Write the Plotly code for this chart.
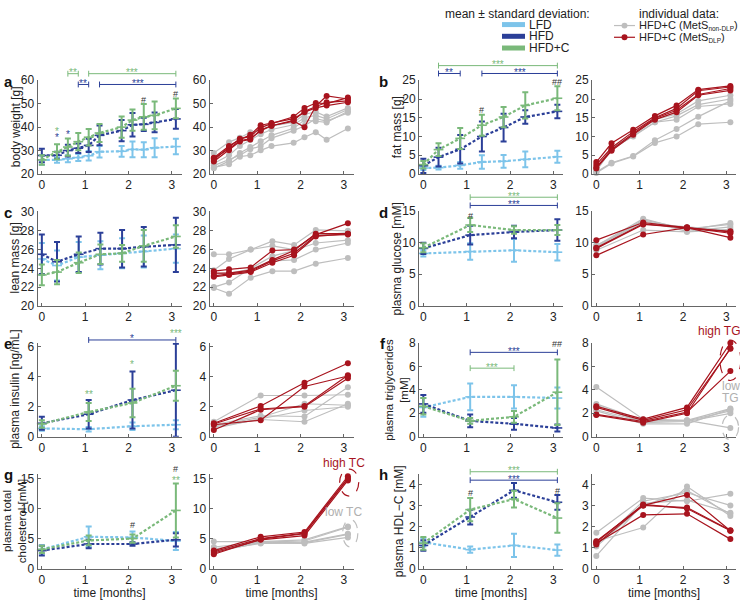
import plotly.graph_objects as go

W, H = 740, 600
FONT = "Liberation Sans, Arial, Helvetica, sans-serif"
LFD_C = "#7DC4EA"
HFD_C = "#2B3F98"
HFDC_C = "#7AB97A"
RED_C = "#A8141E"
GRAY_C = "#BEBEBE"
AX_C = "#666666"
TXT_C = "#222222"

# ---------------- time points (months) ----------------
time_a = [0, 0.35, 0.6, 0.84, 1.08, 1.33, 1.84, 2.09, 2.35, 2.6, 3.09]
time_bc = [0, 0.35, 0.85, 1.35, 1.85, 2.35, 3.09]
time_blood = [0, 1.08, 2.09, 3.09]

# ---------------- a: body weight [g] ----------------
a_lfd = [26.0, 26.0, 26.5, 27.0, 27.8, 29.5, 29.7, 30.5, 30.4, 31.2, 31.7]
a_lfd_sd = [2.0, 1.2, 1.5, 1.5, 2.0, 2.5, 2.3, 3.4, 3.2, 4.1, 3.3]
a_hfd = [27.9, 28.0, 30.0, 31.0, 32.2, 36.5, 38.5, 41.0, 41.2, 42.0, 43.5]
a_hfd_sd = [2.9, 1.5, 2.5, 2.0, 2.8, 4.2, 4.5, 5.0, 2.8, 4.2, 4.2]
a_hfdc = [26.0, 29.5, 31.5, 33.8, 35.7, 37.5, 40.0, 43.0, 44.4, 45.0, 48.0]
a_hfdc_sd = [2.0, 3.2, 3.7, 3.7, 3.5, 3.8, 4.5, 4.5, 5.5, 5.9, 4.2]
a_red = [[26.7, 30.8, 34.3, 35.0, 38.5, 40.6, 42.6, 40.0, 49.0, 53.3, 52.0],
         [26.0, 31.5, 35.0, 36.0, 39.8, 41.5, 44.4, 48.2, 50.3, 50.0, 52.6],
         [25.3, 30.1, 33.9, 34.7, 38.9, 40.6, 42.9, 46.8, 48.9, 50.6, 51.2],
         [26.9, 31.9, 34.7, 36.7, 40.8, 41.8, 43.6, 46.4, 48.2, 49.2, 50.6]]
a_gray = [[29.0, 33.6, 35.5, 37.8, 38.5, 40.5, 42.0, 45.5, 46.5, 44.5, 48.2],
          [24.5, 28.0, 32.0, 34.5, 37.0, 39.0, 41.0, 44.0, 45.0, 43.5, 47.5],
          [23.6, 26.0, 28.0, 30.6, 31.9, 35.3, 38.5, 40.6, 43.6, 42.6, 46.1],
          [22.5, 25.5, 29.0, 31.5, 34.0, 36.5, 39.5, 43.0, 42.5, 42.0, 46.8],
          [22.8, 24.2, 27.4, 28.0, 30.1, 31.9, 33.3, 35.7, 37.8, 34.6, 39.4]]
a_brackets = [(0.6, 0.84, 62.8, "**", "g"), (1.08, 3.09, 62.8, "***", "g"),
              (0.84, 1.08, 58.2, "**", "b"), (1.33, 3.09, 58.2, "***", "b")]
a_marks = [(0.35, 38.6, "*", "g"), (0.35, 35.8, "*", "b"), (0.6, 37.4, "*", "b"),
           (2.35, 51.7, "#", "k"), (3.09, 54.3, "#", "k")]

# ---------------- b: fat mass [g] ----------------
b_lfd = [1.6, 1.7, 2.3, 3.2, 3.4, 3.9, 4.6]
b_lfd_sd = [0.5, 0.5, 0.9, 1.8, 1.7, 2.1, 1.6]
b_hfd = [2.2, 4.5, 6.6, 10.0, 12.4, 15.2, 16.7]
b_hfd_sd = [1.9, 2.5, 3.8, 4.0, 3.7, 1.8, 1.8]
b_hfdc = [2.5, 6.5, 9.5, 13.0, 15.2, 18.3, 20.2]
b_hfdc_sd = [1.0, 1.7, 2.8, 2.8, 2.7, 3.5, 3.2]
b_red = [[3.2, 8.2, 11.8, 15.5, 18.3, 22.5, 23.5],
         [2.5, 7.0, 11.3, 15.0, 17.5, 22.2, 23.2],
         [1.8, 6.5, 10.8, 14.8, 17.0, 21.2, 22.8],
         [1.5, 6.2, 10.5, 14.5, 16.5, 21.0, 22.3]]
b_gray = [[1.0, 7.0, 10.5, 14.5, 16.0, 19.5, 21.0],
          [0.8, 6.5, 10.2, 13.8, 15.5, 18.5, 20.0],
          [1.2, 6.8, 10.0, 13.8, 14.5, 18.0, 18.7],
          [0.5, 3.0, 4.8, 9.0, 12.0, 15.3, 19.5],
          [0.3, 2.8, 4.7, 8.3, 10.0, 13.3, 13.8]]
b_brackets = [(0.35, 3.09, 28.9, "***", "g"), (0.35, 0.85, 26.8, "**", "b"),
              (1.35, 3.09, 26.8, "***", "b")]
b_marks = [(1.35, 17.0, "#", "k"), (3.09, 24.5, "##", "k")]

# ---------------- c: lean mass [g] ----------------
c_lfd = [25.0, 24.3, 25.2, 25.4, 25.6, 25.8, 26.1]
c_lfd_sd = [1.7, 1.6, 1.6, 1.5, 1.6, 1.7, 1.5]
c_hfd = [25.5, 24.7, 25.5, 26.1, 26.1, 26.3, 26.5]
c_hfd_sd = [2.1, 2.1, 1.9, 1.7, 2.0, 2.1, 2.9]
c_hfdc = [23.3, 23.6, 24.6, 25.5, 25.6, 26.4, 27.4]
c_hfdc_sd = [1.1, 1.3, 1.1, 1.05, 0.9, 1.7, 1.2]
c_red = [[23.7, 23.9, 24.1, 25.9, 26.0, 27.6, 28.8],
         [23.5, 23.5, 23.8, 24.9, 25.9, 27.7, 27.7],
         [23.2, 23.4, 23.7, 24.8, 25.6, 27.5, 27.6],
         [23.1, 23.3, 23.6, 24.6, 25.4, 27.4, 27.7]]
c_gray = [[25.5, 25.5, 26.0, 26.9, 26.5, 28.1, 28.0],
          [23.8, 25.0, 26.0, 26.4, 26.0, 27.5, 27.8],
          [22.0, 22.5, 24.0, 25.3, 25.9, 26.7, 27.0],
          [23.4, 23.5, 23.9, 24.8, 24.9, 26.0, 26.7],
          [21.9, 21.3, 23.0, 23.7, 23.7, 24.5, 25.1]]
c_brackets = []
c_marks = []

# ---------------- d: plasma glucose [mM] ----------------
d_lfd = [8.3, 8.6, 8.8, 8.5]
d_lfd_sd = [0.5, 1.3, 1.8, 1.3]
d_hfd = [9.1, 11.2, 11.7, 12.0]
d_hfd_sd = [0.9, 1.5, 1.0, 1.7]
d_hfdc = [9.2, 12.8, 12.0, 12.0]
d_hfdc_sd = [0.7, 1.1, 0.6, 0.8]
d_red = [[10.4, 13.2, 12.4, 11.7],
         [9.2, 13.0, 12.3, 11.8],
         [9.1, 12.9, 12.4, 11.5],
         [8.0, 11.3, 12.4, 10.8]]
d_gray = [[9.5, 13.8, 12.0, 13.1],
          [9.3, 13.6, 12.2, 12.9],
          [9.0, 13.5, 11.8, 12.5],
          [8.8, 12.0, 11.7, 12.1],
          [9.6, 13.1, 12.5, 11.9]]
d_brackets = [(1.08, 3.09, 17.2, "***", "g"), (1.08, 3.09, 15.9, "***", "b")]
d_marks = [(1.08, 14.3, "#", "k")]

# ---------------- e: plasma insulin [ng/mL] ----------------
e_lfd = [0.55, 0.5, 0.7, 0.8]
e_lfd_sd = [0.15, 0.15, 0.25, 0.3]
e_hfd = [0.9, 1.5, 2.45, 3.1]
e_hfd_sd = [0.43, 0.95, 1.9, 3.1]
e_hfdc = [0.85, 1.65, 2.25, 3.4]
e_hfdc_sd = [0.25, 0.6, 0.95, 1.0]
e_red = [[0.9, 2.05, 3.6, 4.9],
         [0.85, 1.85, 2.05, 4.1],
         [0.8, 1.1, 3.35, 4.05],
         [0.45, 1.8, 2.0, 3.9]]
e_gray = [[1.0, 2.75, 2.75, 2.8],
          [0.8, 1.4, 1.35, 3.3],
          [0.7, 1.3, 2.2, 2.1],
          [0.65, 1.15, 1.0, 2.2],
          [0.55, 1.2, 1.75, 2.0]]
e_brackets = [(1.08, 3.09, 6.45, "*", "b")]
e_marks = [(1.08, 2.9, "**", "g"), (2.09, 4.9, "*", "g"), (3.09, 6.95, "***", "g")]

# ---------------- f: plasma triglycerides [mM] ----------------
f_lfd = [2.5, 3.4, 3.4, 3.3]
f_lfd_sd = [0.8, 1.15, 1.0, 0.9]
f_hfd = [2.8, 1.35, 1.1, 0.75]
f_hfd_sd = [0.75, 0.55, 0.5, 0.3]
f_hfdc = [2.6, 1.35, 1.7, 3.8]
f_hfdc_sd = [0.7, 0.25, 0.5, 2.8]
f_red = [[2.6, 1.5, 2.5, 8.0],
         [2.5, 1.4, 2.3, 7.5],
         [1.9, 1.3, 2.1, 5.6],
         [1.85, 1.2, 2.0, 7.55]]
f_gray = [[4.25, 1.5, 1.4, 2.4],
          [2.8, 1.4, 1.35, 2.2],
          [2.7, 1.2, 1.3, 2.0],
          [2.2, 1.1, 1.1, 2.35],
          [2.3, 1.3, 1.4, 0.75]]
f_brackets = [(1.08, 3.09, 7.2, "***", "b"), (1.08, 2.09, 5.85, "***", "g")]
f_marks = [(3.09, 7.9, "##", "k")]

# ---------------- g: plasma total cholesterol [mM] ----------------
g_lfd = [3.2, 5.3, 5.2, 4.6]
g_lfd_sd = [0.7, 1.7, 1.0, 1.5]
g_hfd = [3.0, 4.1, 4.1, 4.8]
g_hfd_sd = [0.8, 0.7, 0.3, 1.1]
g_hfdc = [3.2, 4.7, 5.0, 9.7]
g_hfdc_sd = [0.6, 0.8, 0.7, 4.5]
g_red = [[3.0, 5.3, 6.1, 15.4],
         [2.8, 5.0, 5.9, 15.1],
         [2.6, 4.8, 5.5, 14.7],
         [2.4, 4.9, 5.8, 15.0]]
g_gray = [[4.5, 4.5, 4.8, 7.0],
          [3.6, 4.4, 4.6, 6.9],
          [3.3, 4.3, 4.4, 5.8],
          [3.0, 4.2, 4.3, 5.7],
          [2.8, 4.3, 4.2, 5.2]]
g_brackets = []
g_marks = [(2.09, 7.2, "#", "k"), (3.09, 14.9, "**", "g"), (3.09, 16.6, "#", "k")]

# ---------------- h: plasma HDL-C [mM] ----------------
h_lfd = [1.25, 0.9, 1.1, 0.88]
h_lfd_sd = [0.2, 0.15, 0.55, 0.27]
h_hfd = [1.1, 2.45, 3.72, 3.15]
h_hfd_sd = [0.25, 0.35, 0.35, 0.35]
h_hfdc = [1.2, 2.8, 3.3, 2.4]
h_hfdc_sd = [0.3, 0.55, 0.4, 0.7]
h_red = [[1.3, 3.0, 3.5, 1.8],
         [1.25, 3.05, 2.85, 1.8],
         [1.2, 2.55, 2.6, 1.4],
         [1.15, 3.0, 2.9, 1.82]]
h_gray = [[1.7, 3.35, 3.2, 3.55],
          [1.1, 3.2, 3.6, 3.0],
          [0.6, 3.1, 3.25, 2.65],
          [1.3, 1.95, 3.9, 2.5],
          [1.05, 3.0, 3.7, 2.6]]
h_brackets = [(1.08, 3.09, 4.6, "***", "g"), (1.08, 3.09, 4.2, "***", "b")]
h_marks = [(1.08, 3.6, "#", "k"), (3.09, 3.7, "#", "k")]

# ---------------- layout geometry (pixels) ----------------
XDOM = {"L": [(37.5, 181.5), (209.5, 353.5)], "R": [(419, 563), (592, 736)]}
ROWS = [(75, 171), (209, 306), (344, 440), (478, 575)]
XR = [-0.1, 3.22]

panels = [
    dict(letter="a", ylabel="body weight [g]", yr=[20, 60], dt=10, t=time_a,
         lfd=(a_lfd, a_lfd_sd), hfd=(a_hfd, a_hfd_sd), hfdc=(a_hfdc, a_hfdc_sd),
         red=a_red, gray=a_gray, br=a_brackets, mk=a_marks, ylx=16),
    dict(letter="b", ylabel="fat mass [g]", yr=[0, 25], dt=5, t=time_bc,
         lfd=(b_lfd, b_lfd_sd), hfd=(b_hfd, b_hfd_sd), hfdc=(b_hfdc, b_hfdc_sd),
         red=b_red, gray=b_gray, br=b_brackets, mk=b_marks, ylx=397),
    dict(letter="c", ylabel="lean mass [g]", yr=[20, 30.1], dt=2, t=time_bc,
         lfd=(c_lfd, c_lfd_sd), hfd=(c_hfd, c_hfd_sd), hfdc=(c_hfdc, c_hfdc_sd),
         red=c_red, gray=c_gray, br=c_brackets, mk=c_marks, ylx=15),
    dict(letter="d", ylabel="plasma glucose [mM]", yr=[0, 15], dt=5, t=time_blood,
         lfd=(d_lfd, d_lfd_sd), hfd=(d_hfd, d_hfd_sd), hfdc=(d_hfdc, d_hfdc_sd),
         red=d_red, gray=d_gray, br=d_brackets, mk=d_marks, ylx=397),
    dict(letter="e", ylabel="plasma insulin [ng/mL]", yr=[0, 6.25], dt=2, t=time_blood,
         lfd=(e_lfd, e_lfd_sd), hfd=(e_hfd, e_hfd_sd), hfdc=(e_hfdc, e_hfdc_sd),
         red=e_red, gray=e_gray, br=e_brackets, mk=e_marks, ylx=15),
    dict(letter="f", ylabel="plasma triglycerides<br>[mM]", yr=[0, 8], dt=2, t=time_blood,
         lfd=(f_lfd, f_lfd_sd), hfd=(f_hfd, f_hfd_sd), hfdc=(f_hfdc, f_hfdc_sd),
         red=f_red, gray=f_gray, br=f_brackets, mk=f_marks, ylx=397),
    dict(letter="g", ylabel="plasma total<br>cholesterol [mM]", yr=[0, 15.8], dt=5, t=time_blood,
         lfd=(g_lfd, g_lfd_sd), hfd=(g_hfd, g_hfd_sd), hfdc=(g_hfdc, g_hfdc_sd),
         red=g_red, gray=g_gray, br=g_brackets, mk=g_marks, ylx=14),
    dict(letter="h", ylabel="plasma HDL\u2212C [mM]", yr=[0, 4.5], dt=1, t=time_blood,
         lfd=(h_lfd, h_lfd_sd), hfd=(h_hfd, h_hfd_sd), hfdc=(h_hfdc, h_hfdc_sd),
         red=h_red, gray=h_gray, br=h_brackets, mk=h_marks, ylx=399),
]

COLS = {"g": HFDC_C, "b": HFD_C, "k": "#333333"}


def sfx(k):
    return "" if k == 1 else str(k)


def dxv(t):
    return (t - XR[0]) / (XR[1] - XR[0])


def dyv(v, yr):
    return (v - yr[0]) / (yr[1] - yr[0])


def fx(px):
    return px / W


def fy(py):
    return 1 - py / H


fig = go.Figure()
layout = dict(width=W, height=H, margin=dict(l=0, r=0, t=0, b=0),
              paper_bgcolor="white", plot_bgcolor="white", showlegend=False,
              font=dict(family=FONT, size=12, color=TXT_C))
shapes = []
annots = []


def ann(**kw):
    base = dict(showarrow=False, xanchor="center", yanchor="middle")
    base.update(kw)
    annots.append(base)


for i, p in enumerate(panels):
    side = "L" if i % 2 == 0 else "R"
    row = i // 2
    top, bot = ROWS[row]
    yr = p["yr"]
    for j in range(2):
        k = 2 * i + j + 1
        s = sfx(k)
        x0, x1 = XDOM[side][j]
        layout[f"xaxis{s}"] = dict(
            domain=[fx(x0), fx(x1)], range=XR, anchor=f"y{s}", showgrid=False,
            zeroline=False, showline=True, linecolor=AX_C, linewidth=1,
            ticks="inside", ticklen=3, tickcolor=AX_C, tickvals=[0, 1, 2, 3],
            tickfont=dict(size=12, color=TXT_C),
            title=dict(text="time [months]" if row == 3 else "", font=dict(size=12), standoff=0))
        layout[f"yaxis{s}"] = dict(
            domain=[fy(bot), fy(top)], range=yr, anchor=f"x{s}", showgrid=False,
            zeroline=False, showline=True, linecolor=AX_C, linewidth=1,
            ticks="inside", ticklen=3, tickcolor=AX_C, dtick=p["dt"], tick0=0,
            tickfont=dict(size=12, color=TXT_C))

    sL = sfx(2 * i + 1)
    sR = sfx(2 * i + 2)
    # mean +- SD panel
    for (vals, sds), col in ((p["lfd"], LFD_C), (p["hfd"], HFD_C), (p["hfdc"], HFDC_C)):
        fig.add_trace(go.Scatter(
            x=p["t"], y=vals, mode="lines+markers", xaxis=f"x{sL}", yaxis=f"y{sL}",
            line=dict(color=col, width=2.2, dash="3px,2px"),
            marker=dict(symbol="line-ew", size=7, color=col, line=dict(width=1.6, color=col)),
            error_y=dict(type="data", array=sds, color=col, thickness=2, width=3),
            cliponaxis=False, hoverinfo="skip"))
    # individual panel
    for ser in p["gray"]:
        fig.add_trace(go.Scatter(
            x=p["t"], y=ser, mode="lines+markers", xaxis=f"x{sR}", yaxis=f"y{sR}",
            line=dict(color=GRAY_C, width=1.2), marker=dict(size=6, color=GRAY_C),
            cliponaxis=False, hoverinfo="skip"))
    for ser in p["red"]:
        fig.add_trace(go.Scatter(
            x=p["t"], y=ser, mode="lines+markers", xaxis=f"x{sR}", yaxis=f"y{sR}",
            line=dict(color=RED_C, width=1.2), marker=dict(size=6, color=RED_C),
            cliponaxis=False, hoverinfo="skip"))

    hpx = bot - top
    xd, yd = f"x{sL} domain", f"y{sL} domain"
    for (t0, t1, yv, txt, c) in p["br"]:
        col = COLS[c]
        yy = dyv(yv, yr)
        tk = 3.0 / hpx
        shapes.append(dict(type="line", xref=xd, yref=yd,
                           x0=dxv(t0), x1=dxv(t1), y0=yy, y1=yy, line=dict(color=col, width=1)))
        for tt in (t0, t1):
            shapes.append(dict(type="line", xref=xd, yref=yd,
                               x0=dxv(tt), x1=dxv(tt), y0=yy - tk, y1=yy + tk,
                               line=dict(color=col, width=1)))
        ann(xref=xd, yref=yd, x=dxv((t0 + t1) / 2), y=yy, text=txt, yshift=1,
            font=dict(size=10, color=col))
    for (tt, yv, txt, c) in p["mk"]:
        col = COLS[c]
        ann(xref=xd, yref=yd, x=dxv(tt), y=dyv(yv, yr), text=txt,
            yshift=-1 if txt.startswith("*") else 0,
            font=dict(size=10 if txt.startswith("*") else 9, color=col))

    lx = 8 if side == "L" else 383
    ann(xref="paper", yref="paper", x=fx(lx), y=fy(top + 1), text=f"<b>{p['letter']}</b>",
        font=dict(size=15, color="#111111"))
    two_line = "<br>" in p["ylabel"]
    ann(xref="paper", yref="paper", x=fx(p["ylx"]), y=fy((top + bot) / 2),
        text=p["ylabel"], textangle=-90,
        font=dict(size=11.5 if two_line else 12, color=TXT_C))

# ---------------- group outlines in panels f and g (right plots) ----------------
f_high_box = (2.85, 3.33, 4.8, 8.25)
f_low_box = (2.9, 3.28, -0.25, 1.85)
g_high_box = (2.9, 3.34, 12.1, 16.6)
g_low_box = (2.97, 3.32, 3.6, 8.2)
yr_f = panels[5]["yr"]
yr_g = panels[6]["yr"]
for (k, yr, box, col) in ((12, yr_f, f_high_box, RED_C), (12, yr_f, f_low_box, GRAY_C),
                          (14, yr_g, g_high_box, RED_C), (14, yr_g, g_low_box, GRAY_C)):
    x0, x1, y0, y1 = box
    shapes.append(dict(type="circle", xref=f"x{k} domain", yref=f"y{k} domain",
                       x0=dxv(x0), x1=dxv(x1), y0=dyv(y0, yr), y1=dyv(y1, yr),
                       line=dict(color=col, width=1.2, dash="dash")))
LBL_G = "#B0B0B0"
for (k, yr, tx, ty, txt, col) in ((12, yr_f, 2.83, 9.0, "high TG", RED_C),
                                  (12, yr_f, 3.1, 4.3, "low", LBL_G),
                                  (12, yr_f, 3.1, 3.3, "TG", LBL_G),
                                  (14, yr_g, 3.0, 17.6, "high TC", RED_C),
                                  (14, yr_g, 3.0, 9.5, "low TC", LBL_G)):
    ann(xref=f"x{k} domain", yref=f"y{k} domain", x=dxv(tx), y=dyv(ty, yr),
        text=txt, font=dict(size=12, color=col))

# ---------------- legends ----------------
ann(xref="paper", yref="paper", x=fx(517), y=fy(7), text="mean \u00b1 standard deviation:",
    font=dict(size=12, color=TXT_C))
for name, col, py in (("LFD", LFD_C, 18), ("HFD", HFD_C, 30), ("HFD+C", HFDC_C, 42)):
    shapes.append(dict(type="line", xref="paper", yref="paper", x0=fx(502), x1=fx(525),
                       y0=fy(py), y1=fy(py), line=dict(color=col, width=5)))
    ann(xref="paper", yref="paper", x=fx(527), y=fy(py), text=name, xanchor="left",
        font=dict(size=12, color=TXT_C))
ann(xref="paper", yref="paper", x=fx(679), y=fy(7), text="individual data:",
    font=dict(size=12, color=TXT_C))
SUBSTYLE = "font-size:6.5px"
for name, col, py in ((f"HFD+C (MetS<sub><span style='{SUBSTYLE}'>non-DLP</span></sub>)", GRAY_C, 19),
                      (f"HFD+C (MetS<sub><span style='{SUBSTYLE}'>DLP</span></sub>)", RED_C, 31)):
    shapes.append(dict(type="line", xref="paper", yref="paper", x0=fx(614), x1=fx(635),
                       y0=fy(py), y1=fy(py), line=dict(color=col, width=1.2)))
    shapes.append(dict(type="circle", xref="paper", yref="paper", x0=fx(621.5), x1=fx(627.5),
                       y0=fy(py + 3), y1=fy(py - 3), fillcolor=col, line=dict(color=col, width=0)))
    ann(xref="paper", yref="paper", x=fx(637), y=fy(py), text=name, xanchor="left",
        font=dict(size=11, color=TXT_C))

layout["shapes"] = shapes
layout["annotations"] = annots
fig.update_layout(**layout)
fig.write_html("out.html", config={"displayModeBar": False})

# remove the default page margin so the 740x600 figure fills the window exactly
with open("out.html", "r", encoding="utf-8") as fh:
    html = fh.read()
html = html.replace("<head>", "<head><style>html,body{margin:0;padding:0;overflow:hidden;}</style>", 1)
with open("out.html", "w", encoding="utf-8") as fh:
    fh.write(html)
